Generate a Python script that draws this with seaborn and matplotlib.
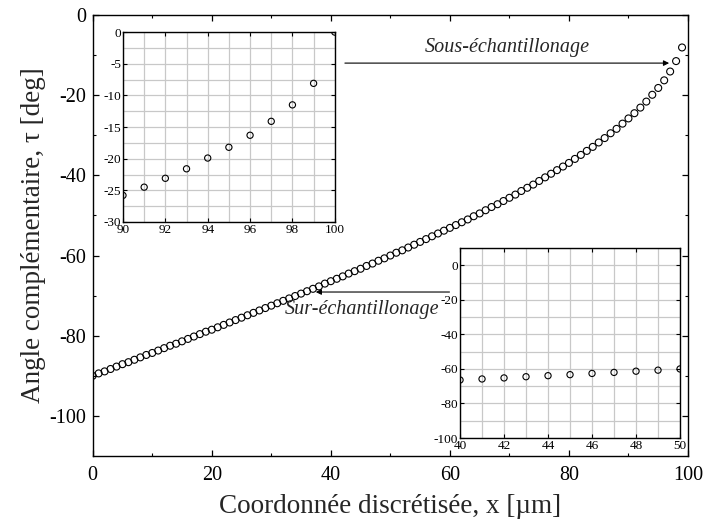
import matplotlib
matplotlib.use("Agg")
import matplotlib.pyplot as plt
import numpy as np
import pandas as pd
import seaborn as sns

# discretised coordinate (um) and complementary angle tau (deg)
x_um = np.arange(0, 101)
tau_deg = [
    -90.0, -89.4, -88.9, -88.3, -87.7, -87.1, -86.6, -86.0, -85.4, -84.8,
    -84.3, -83.7, -83.1, -82.5, -82.0, -81.4, -80.8, -80.2, -79.6, -79.0,
    -78.5, -77.9, -77.3, -76.7, -76.1, -75.5, -74.9, -74.3, -73.7, -73.1,
    -72.5, -71.9, -71.3, -70.7, -70.1, -69.5, -68.9, -68.3, -67.7, -67.0,
    -66.4, -65.8, -65.2, -64.5, -63.9, -63.3, -62.6, -62.0, -61.3, -60.7,
    -60.0, -59.3, -58.7, -58.0, -57.3, -56.6, -55.9, -55.2, -54.5, -53.8,
    -53.1, -52.4, -51.7, -51.0, -50.2, -49.5, -48.7, -47.9, -47.2, -46.4,
    -45.6, -44.8, -43.9, -43.1, -42.3, -41.4, -40.5, -39.6, -38.7, -37.8,
    -36.9, -35.9, -34.9, -33.9, -32.9, -31.8, -30.7, -29.5, -28.4, -27.1,
    -25.8, -24.5, -23.1, -21.6, -19.9, -18.2, -16.3, -14.1, -11.5, -8.1,
    0.0,
]
df = pd.DataFrame({"x": x_um, "tau": tau_deg})

sns.set_style("ticks")
plt.rcParams["font.family"] = ["Liberation Serif", "DejaVu Serif"]
plt.rcParams["axes.unicode_minus"] = False

fig = plt.figure(figsize=(7.06, 5.26), dpi=100)
ax = fig.add_axes([0.1313, 0.1331, 0.8432, 0.8384])

mk = dict(marker="o", facecolor="none", edgecolor="black", linewidth=0.8, legend=False)
sns.scatterplot(data=df[df.x < 100], x="x", y="tau", s=25, ax=ax, **mk)

ax.set_xlim(0, 100)
ax.set_ylim(-110, 0)
ax.set_xticks([0, 20, 40, 60, 80, 100])
ax.set_xticks([10, 30, 50, 70, 90], minor=True)
ax.set_yticks([0, -20, -40, -60, -80, -100])
ax.set_yticks([-10, -30, -50, -70, -90], minor=True)
ax.tick_params(which="both", direction="in", top=True, right=True, labelsize=14.5, colors="black")
ax.tick_params(which="major", length=4.5, width=0.9)
ax.tick_params(which="minor", length=2.5, width=0.8)
ax.tick_params(axis="x", pad=7)
ax.tick_params(axis="y", pad=5)
for s in ax.spines.values():
    s.set_linewidth(1.0)
    s.set_color("black")
ax.set_xlabel("Coordonnée discrétisée, x [µm]", fontsize=19.5, labelpad=7)
ax.set_ylabel("Angle complémentaire, τ [deg]", fontsize=19.5, labelpad=2)

# annotations
ax.annotate("", xy=(97.3, -12.0), xytext=(41.9, -12.0),
            arrowprops=dict(arrowstyle="-|>", color="black", lw=0.8, mutation_scale=8))
ax.text(69.6, -8.2, "Sous-échantillonage", style="italic", fontsize=14.5, ha="center", va="center")
ax.annotate("", xy=(37.0, -69.1), xytext=(60.4, -69.1),
            arrowprops=dict(arrowstyle="-|>", color="black", lw=0.8, mutation_scale=8))
ax.text(45.2, -73.4, "Sur-échantillonage", style="italic", fontsize=14.5, ha="center", va="center")

grid_kw = dict(color="#c8c8c8", linewidth=0.9)

# inset: 90-100 um
ax1 = fig.add_axes([0.1742, 0.578, 0.300, 0.361])
sns.scatterplot(data=df[df.x >= 90], x="x", y="tau", s=20, ax=ax1, **mk)
ax1.set_xlim(90, 100)
ax1.set_ylim(-30, 0)
ax1.set_xticks([90, 92, 94, 96, 98, 100])
ax1.set_xticks(np.arange(91, 100, 2), minor=True)
ax1.set_yticks([0, -5, -10, -15, -20, -25, -30])
ax1.set_yticks([-2.5, -7.5, -12.5, -17.5, -22.5, -27.5], minor=True)
ax1.grid(which="both", **grid_kw)

# inset: 40-50 um
ax2 = fig.add_axes([0.6516, 0.1673, 0.3116, 0.361])
sns.scatterplot(data=df[(df.x >= 40) & (df.x <= 50)], x="x", y="tau", s=20, ax=ax2, **mk)
ax2.set_xlim(40, 50)
ax2.set_ylim(-100, 10)
ax2.set_xticks([40, 42, 44, 46, 48, 50])
ax2.set_xticks(np.arange(41, 50, 2), minor=True)
ax2.set_yticks([0, -20, -40, -60, -80, -100])
ax2.set_yticks([10, -10, -30, -50, -70, -90], minor=True)
ax2.grid(which="both", **grid_kw)

for a in (ax1, ax2):
    a.set_xlabel("")
    a.set_ylabel("")
    a.set_axisbelow(True)
    a.tick_params(which="both", direction="in", top=True, right=True, labelsize=9.5,
                  length=3, width=0.8, pad=1.5, colors="black")
    a.tick_params(which="minor", length=0)
    for s in a.spines.values():
        s.set_linewidth(1.0)
        s.set_color("black")

fig.savefig("out.png", dpi=100)
